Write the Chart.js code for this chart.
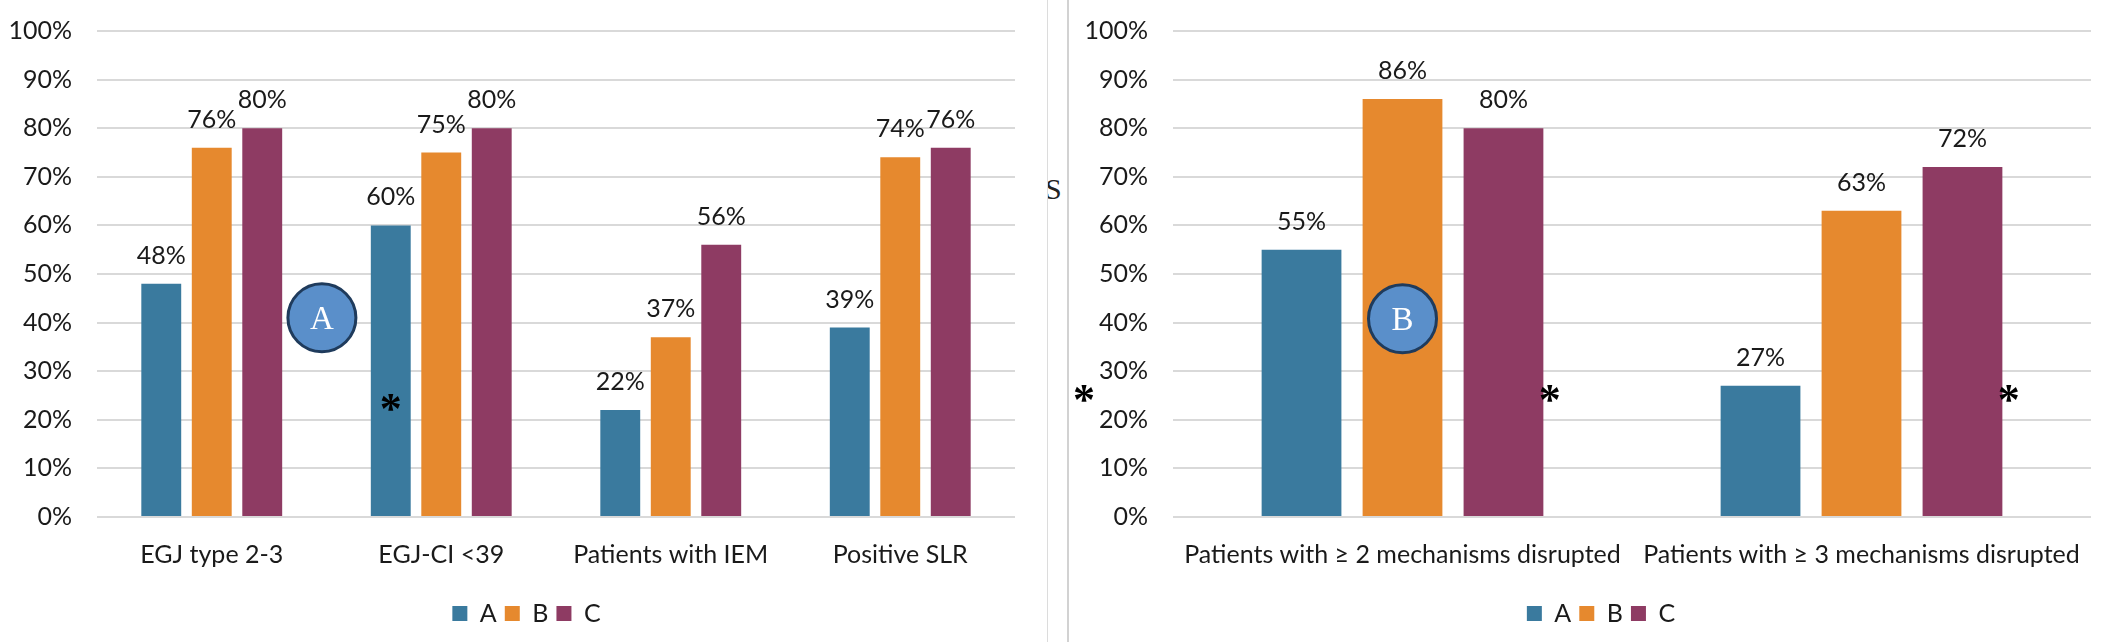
<!DOCTYPE html>
<html>
<head>
<meta charset="utf-8">
<script src="https://cdn.jsdelivr.net/npm/chart.js@4.4.1/dist/chart.umd.min.js"></script>
<style>
  html, body { margin: 0; padding: 0; background: #fff; }
  body { width: 2112px; height: 642px; position: relative; overflow: hidden; }
  .box { position: absolute; top: 0; height: 642px; }
  #left { left: 0; width: 1046px; }
  #right { left: 1069px; width: 1043px; }
  .rule { position: absolute; top: 0; height: 642px; }
  #rule1 { left: 1047px; width: 1px; background: #dcdcdc; }
  #rule2 { left: 1067px; width: 2px; background: #d2d2d2; }
  #stray { position: absolute; left: 1048px; top: 172px; width: 19px; height: 40px; overflow: hidden; }
  #stray span { position: absolute; left: -3px; top: 0; font: 30px "Liberation Serif", serif; color: #222; }
</style>
</head>
<body>
<div id="rule1" class="rule"></div>
<div id="rule2" class="rule"></div>
<div id="stray"><span>S</span></div>
<div id="left" class="box"><canvas id="chartLeft"></canvas></div>
<div id="right" class="box"><canvas id="chartRight"></canvas></div>
<script>
// data
const seriesNames = ['A', 'B', 'C'];
const seriesColors = ['#3A7A9E', '#E6892E', '#8E3B63'];

const leftCategories = ['EGJ type 2-3', 'EGJ-CI <39', 'Patients with IEM', 'Positive SLR'];
const leftA = [48, 60, 22, 39];
const leftB = [76, 75, 37, 74];
const leftC = [80, 80, 56, 76];

const rightCategories = ['Patients with \u2265 2 mechanisms disrupted', 'Patients with \u2265 3 mechanisms disrupted'];
const rightA = [55, 27];
const rightB = [86, 63];
const rightC = [80, 72];

// marks placed on top: x as category index, y as percent
const leftMarks = [
    { kind: 'circle', text: 'A', x: 0.48, y: 41 },
    { kind: 'star', x: 0.78, y: 23.6 },
];
const rightMarks = [
    { kind: 'circle', text: 'B', x: 0, y: 40.8 },
    { kind: 'star', x: -0.694, y: 25.5 },
    { kind: 'star', x: 0.321, y: 25.5 },
    { kind: 'star', x: 1.321, y: 25.5 },
];

const FONT = 'Lato, "Open Sans", sans-serif';
const TEXT = '#1a1a1a';

// percent labels above bars
const valueLabels = {
    id: 'valueLabels',
    afterDatasetsDraw(chart) {
        const ctx = chart.ctx;
        ctx.save();
        ctx.font = '25px ' + FONT;
        ctx.fillStyle = TEXT;
        ctx.textAlign = 'center';
        ctx.textBaseline = 'middle';
        chart.data.datasets.forEach((ds, i) => {
            chart.getDatasetMeta(i).data.forEach((bar, j) => {
                ctx.fillText(ds.data[j] + '%', bar.x, bar.y - 28);
            });
        });
        ctx.restore();
    }
};

// circles with letters and asterisks
const marksPlugin = {
    id: 'marks',
    afterDraw(chart, args, opts) {
        const ctx = chart.ctx;
        const xs = chart.scales.x, ys = chart.scales.y;
        ctx.save();
        (opts.items || []).forEach(m => {
            const px = xs.getPixelForValue(m.x);
            const py = ys.getPixelForValue(m.y);
            if (m.kind === 'circle') {
                ctx.beginPath();
                ctx.arc(px, py, 34, 0, Math.PI * 2);
                ctx.fillStyle = '#5A8FCA';
                ctx.fill();
                ctx.lineWidth = 3;
                ctx.strokeStyle = '#1F3B5C';
                ctx.stroke();
                ctx.fillStyle = '#fff';
                ctx.font = '33px "Liberation Serif", serif';
                ctx.textAlign = 'center';
                ctx.textBaseline = 'alphabetic';
                const mt = ctx.measureText(m.text);
                ctx.fillText(m.text, px, py + (mt.actualBoundingBoxAscent - mt.actualBoundingBoxDescent) / 2);
            } else {
                ctx.fillStyle = '#000';
                ctx.font = 'bold 44px "Liberation Serif", serif';
                ctx.textAlign = 'center';
                ctx.textBaseline = 'alphabetic';
                const mt = ctx.measureText('*');
                ctx.fillText('*', px, py + (mt.actualBoundingBoxAscent - mt.actualBoundingBoxDescent) / 2);
            }
        });
        ctx.restore();
    }
};

// nudge the legend sideways so it sits where the original one does
const legendShift = {
    id: 'legendShift',
    afterLayout(chart, args, opts) {
        const lg = chart.legend;
        if (lg && opts.dx) {
            lg.left += opts.dx;
            lg.right += opts.dx;
        }
    }
};

function buildChart(canvasId, categories, a, b, c, marks, axisWidth, padRight, legendDx) {
    const ctx = document.getElementById(canvasId).getContext('2d');
    return new Chart(ctx, {
        type: 'bar',
        data: {
            labels: categories,
            datasets: [a, b, c].map((vals, i) => ({
                label: seriesNames[i],
                data: vals,
                backgroundColor: seriesColors[i],
                borderWidth: 0,
                categoryPercentage: 0.66,
                barPercentage: 0.79,
            })),
        },
        options: {
            responsive: true,
            maintainAspectRatio: false,
            animation: false,
            layout: {
                padding: { top: 31, left: 0, right: padRight, bottom: 6 }
            },
            plugins: {
                title: { display: false },
                tooltip: { enabled: false },
                legend: {
                    position: 'bottom',
                    labels: {
                        boxWidth: 15,
                        boxHeight: 15,
                        padding: 8,
                        color: TEXT,
                        font: { family: FONT, size: 25 },
                    },
                },
                marks: { items: marks },
                legendShift: { dx: legendDx },
            },
            scales: {
                x: {
                    grid: { display: false, drawTicks: false },
                    border: { display: false },
                    ticks: {
                        color: TEXT,
                        font: { family: FONT, size: 25 },
                        padding: 23,
                        maxRotation: 0,
                        minRotation: 0,
                        autoSkip: false,
                    },
                },
                y: {
                    min: 0,
                    max: 100,
                    afterFit: (scale) => { scale.width = axisWidth; },
                    grid: { color: '#D9D9D9', lineWidth: 2, drawTicks: false },
                    border: { display: false },
                    ticks: {
                        stepSize: 10,
                        padding: 25,
                        color: TEXT,
                        // small line height so the top label does not push the plot down
                        font: { family: FONT, size: 25, lineHeight: 0.4 },
                        callback: (v) => v + '%',
                    },
                },
            },
        },
        plugins: [valueLabels, marksPlugin, legendShift],
    });
}

buildChart('chartLeft', leftCategories, leftA, leftB, leftC, leftMarks, 97, 31, 19);
buildChart('chartRight', rightCategories, rightA, rightB, rightC, rightMarks, 104, 21, 21);
</script>
</body>
</html>
